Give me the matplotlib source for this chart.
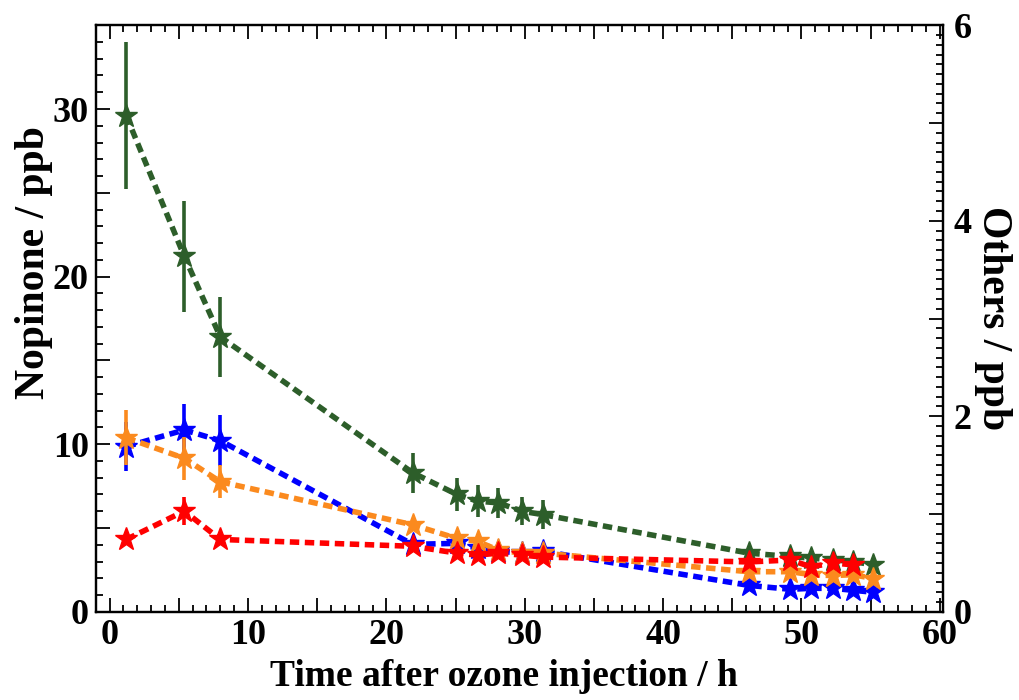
import matplotlib
matplotlib.use("Agg")
import matplotlib.pyplot as plt
from matplotlib.ticker import MultipleLocator, FuncFormatter

plt.rcParams['font.family'] = ['Liberation Serif', 'DejaVu Serif']
plt.rcParams['font.weight'] = 'bold'

# time after ozone injection (h)
t = [1.2, 5.4, 8.0, 21.9, 25.1, 26.6, 28.1, 29.8, 31.3, 46.2, 49.2, 50.7, 52.3, 53.7, 55.2]

# nopinone (left axis, ppb)
nopinone = [29.6, 21.2, 16.4, 8.3, 7.0, 6.6, 6.5, 6.0, 5.8, 3.5, 3.3, 3.2, 3.1, 3.0, 2.8]
nopinone_err = [4.4, 3.3, 2.4, 1.2, 1.0, 0.95, 0.9, 0.85, 0.85, 0.3, 0.3, 0.3, 0.3, 0.3, 0.3]

# others (right axis, ppb)
blue = [1.69, 1.86, 1.75, 0.69, 0.70, 0.65, 0.62, 0.60, 0.62, 0.27, 0.23, 0.24, 0.24, 0.22, 0.20]
blue_err = [0.25, 0.27, 0.26, 0.05, 0.05, 0.04, 0.04, 0.04, 0.04, 0.03, 0.03, 0.03, 0.03, 0.03, 0.03]
orange = [1.78, 1.57, 1.33, 0.89, 0.75, 0.72, 0.63, 0.60, 0.60, 0.41, 0.41, 0.38, 0.37, 0.38, 0.34]
orange_err = [0.28, 0.22, 0.17, 0.06, 0.04, 0.04, 0.03, 0.03, 0.03, 0.03, 0.03, 0.03, 0.03, 0.03, 0.03]
t_red = t[:14]
red = [0.74, 1.03, 0.74, 0.67, 0.60, 0.58, 0.60, 0.58, 0.56, 0.51, 0.53, 0.46, 0.50, 0.48]
red_err = [0.04, 0.14, 0.04, 0.04, 0.03, 0.03, 0.03, 0.03, 0.03, 0.03, 0.03, 0.03, 0.03, 0.03]

green_c = '#2d5e2a'
blue_c = '#0000ff'
orange_c = '#fb8a1e'
red_c = '#ff0000'

fig = plt.figure(figsize=(10.19, 7.0), dpi=100)
ax = fig.add_axes([0.094, 0.126, 0.831, 0.838])
ax2 = ax.twinx()

dash = (0, (1.7, 1.0))

def series(a, x, y, err, color, z):
    a.plot(x, y, linestyle=dash, color=color, lw=4, zorder=z)
    a.errorbar(x, y, yerr=err, fmt='*', color=color, ms=17, mec=color,
               elinewidth=2.6, capsize=0, zorder=z + 1)

series(ax, t, nopinone, nopinone_err, green_c, 2)
series(ax2, t, blue, blue_err, blue_c, 2)
series(ax2, t, orange, orange_err, orange_c, 4)
series(ax2, t_red, red, red_err, red_c, 6)

ax.set_xlim(-1, 60.2)
ax.set_ylim(0, 35)
ax2.set_ylim(0, 6)

ax.xaxis.set_major_locator(MultipleLocator(5))
ax.xaxis.set_minor_locator(MultipleLocator(1))
ax.yaxis.set_major_locator(MultipleLocator(5))
ax.yaxis.set_minor_locator(MultipleLocator(1))
ax2.yaxis.set_major_locator(MultipleLocator(1))
ax2.yaxis.set_minor_locator(MultipleLocator(0.1))

every10 = FuncFormatter(lambda v, p: '%d' % v if round(v) % 10 == 0 else '')
ax.xaxis.set_major_formatter(every10)
ax.yaxis.set_major_formatter(every10)
ax2.yaxis.set_major_formatter(FuncFormatter(lambda v, p: '%d' % v if round(v) % 2 == 0 else ''))

ax.tick_params(axis='x', which='both', direction='in', top=True, bottom=True)
ax.tick_params(axis='y', which='both', direction='in', left=True, right=False)
ax.tick_params(which='major', length=10, width=1.3, labelsize=26, pad=5)
ax.tick_params(which='minor', length=5, width=1.3)
ax2.tick_params(axis='y', which='major', direction='in', length=10, width=1.3, labelsize=26, pad=8)
ax2.tick_params(axis='y', which='minor', direction='in', length=5, width=1.3)

for a in (ax, ax2):
    for s in a.spines.values():
        s.set_linewidth(1.6)

fig.text(504 / 1019, 1 - 676 / 700, 'Time after ozone injection / h', fontsize=27,
         fontweight='bold', ha='center', va='center')
fig.text(34 / 1019, 1 - 262 / 700, 'Nopinone / ppb', fontsize=30, fontweight='bold',
         rotation=90, ha='center', va='center')
fig.text(993 / 1019, 1 - 318 / 700, 'Others / ppb', fontsize=30, fontweight='bold',
         rotation=270, ha='center', va='center')

fig.savefig('out.png', dpi=100)
